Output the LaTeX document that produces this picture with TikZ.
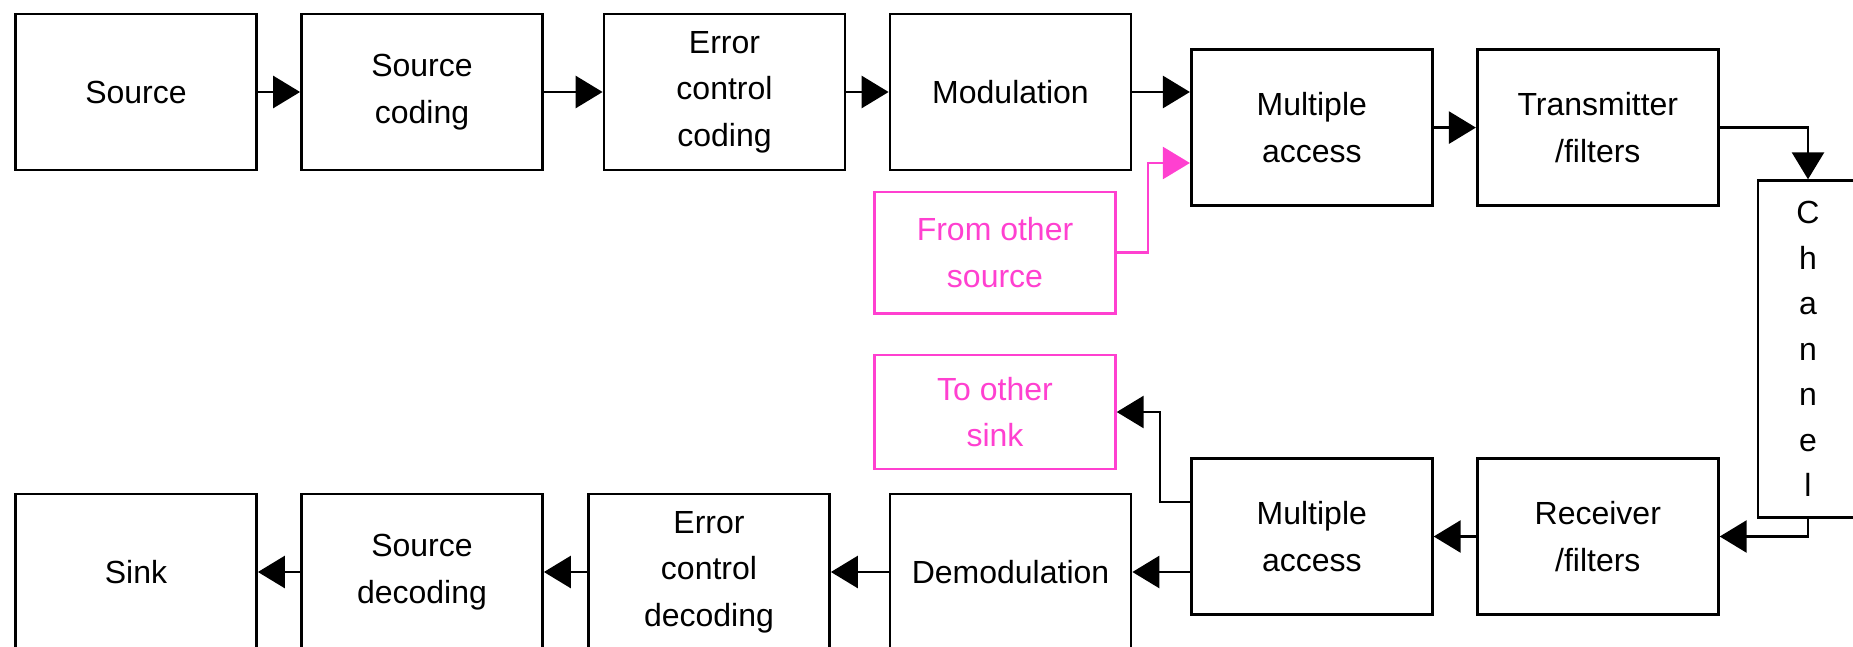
\documentclass[tikz,border=0pt]{standalone}
\usepackage{fontspec}
\setmainfont{Liberation Sans}
\usetikzlibrary{arrows.meta}
\definecolor{pinkline}{RGB}{255,64,208}
\tikzset{
  blk/.style={draw, line width=1.4pt, minimum width=120.5pt, minimum height=78pt,
    inner sep=0pt, align=center, font=\fontsize{16pt}{23.3pt}\selectfont},
  pinkblk/.style={blk, draw=pinkline, text=pinkline, line width=1.2pt},
  flow/.style={line width=1.4pt, -{Triangle[length=13.5pt,width=16pt]}},
}
\begin{document}
\begin{tikzpicture}[x=0.5pt, y=-0.5pt]
      \clip (0,0) rectangle (1853,647);
      %
      \node[blk] (src)  at (136,92)    {Source};          % top row
      \node[blk] (scod) at (422,92)    {Source\\coding};
      \node[blk] (ecc)  at (724.5,92)  {Error\\control\\coding};
      \node[blk] (mod)  at (1010.5,92) {Modulation};
      \node[blk] (mtx)  at (1311.8,127.6) {Multiple\\access};
      \node[blk] (tx)   at (1597.8,127.6) {Transmitter\\/filters};
      %
      \node[blk, minimum width=50pt, minimum height=168.5pt,
            font=\fontsize{16pt}{22.75pt}\selectfont]
            (chan) at (1808,349.2) {C\\h\\a\\n\\n\\e\\l};  % channel
      %
      \node[pinkblk, minimum height=60.8pt]  (fos) at (995,252.5) {From other\\source};
      \node[pinkblk, minimum height=57.25pt] (tos) at (995,412)   {To other\\sink};
      %
      \node[blk] (mrx)   at (1311.8,536.5) {Multiple\\access};  % bottom row
      \node[blk] (rx)    at (1597.8,536.5) {Receiver\\/filters};
      \node[blk] (sink)  at (136,572)    {Sink};
      \node[blk] (sdec)  at (422,572)    {Source\\decoding};
      \node[blk] (ecd)   at (709,572)    {Error\\control\\decoding};
      \node[blk] (demod) at (1010.5,572) {Demodulation};
      %
      \draw[flow] (src) -- (scod);                      % transmit side
      \draw[flow] (scod) -- (ecc);
      \draw[flow] (ecc) -- (mod);
      \draw[flow] (mod.east) -- (mod.east -| mtx.west);
      \draw[flow, pinkline, line width=1.2pt] (fos.east) -- ++(31,0) |- ([yshift=-17.7pt]mtx.west);
      \draw[flow] (mtx) -- (tx);
      \draw[flow] (tx.east) -| (chan.north);
      %%
      \draw[flow] (chan.south) |- (rx.east);           % receive side
      \draw[flow] (rx) -- (mrx);
      \draw[flow] (demod.east -| mrx.west) -- (demod.east);
      \draw[flow] ([yshift=17.25pt]mrx.west) -- ++(-30,0) |- (tos.east);
      \draw[flow] (demod) -- (ecd);
      \draw[flow] (ecd) -- (sdec);
      \draw[flow] (sdec) -- (sink);
      %
    \end{tikzpicture}
\end{document}
